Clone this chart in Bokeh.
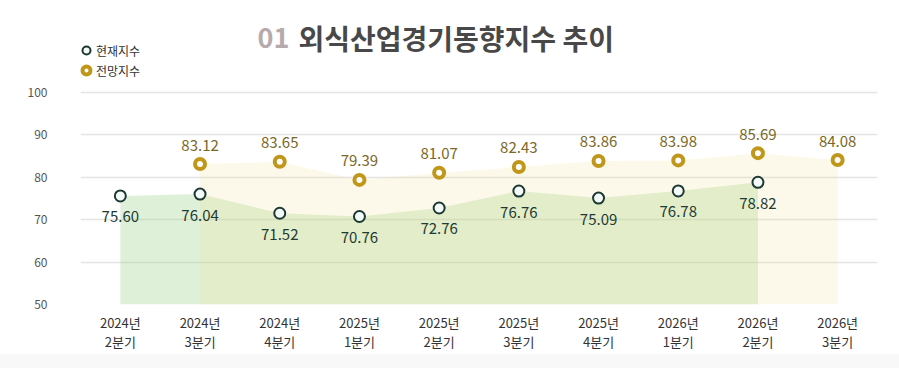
from bokeh.plotting import figure
from bokeh.models import (ColumnDataSource, FactorRange, Range1d, FixedTicker,
                          Label, Legend, LegendItem, Div)
from bokeh.layouts import column
from bokeh.core.properties import value
from bokeh.embed import file_html
from bokeh.resources import INLINE

# Quarterly food-service business sentiment index
quarters = ["2024년\n2분기", "2024년\n3분기", "2024년\n4분기", "2025년\n1분기", "2025년\n2분기",
            "2025년\n3분기", "2025년\n4분기", "2026년\n1분기", "2026년\n2분기", "2026년\n3분기"]
current_q = quarters[:9]
current_vals = [75.60, 76.04, 71.52, 70.76, 72.76, 76.76, 75.09, 76.78, 78.82]
outlook_q = quarters[1:]
outlook_vals = [83.12, 83.65, 79.39, 81.07, 82.43, 83.86, 83.98, 85.69, 84.08]
y_ticks = [50, 60, 70, 80, 90, 100]

FONT = "Noto Sans CJK KR"
W, H = 899, 354
LEFT, RIGHT, BOTTOM = 80, 22, 50
FRAME_H = H - BOTTOM
PX_PER_UNIT = 4.24

cur_src = ColumnDataSource(dict(x=current_q, y=current_vals,
                                base=[50] * len(current_vals),
                                lbl=[f"{v:.2f}" for v in current_vals]))
out_src = ColumnDataSource(dict(x=outlook_q, y=outlook_vals,
                                base=[50] * len(outlook_vals),
                                lbl=[f"{v:.2f}" for v in outlook_vals]))

p = figure(width=W, height=H, output_backend="svg", toolbar_location=None,
           x_range=FactorRange(*quarters, range_padding=0),
           y_range=Range1d(50, 50 + FRAME_H / PX_PER_UNIT),
           min_border_left=LEFT, min_border_right=RIGHT,
           min_border_top=0, min_border_bottom=BOTTOM)
p.outline_line_color = None
p.background_fill_color = "white"
p.border_fill_color = "white"

# shaded areas under both series
p.varea(x="x", y1="base", y2="y", source=cur_src, fill_color=(160, 210, 140), fill_alpha=0.34)
p.varea(x="x", y1="base", y2="y", source=out_src, fill_color=(245, 225, 150), fill_alpha=0.2)

# markers
cur_r = p.scatter(x="x", y="y", source=cur_src, size=11, fill_color="#f4faf8",
                  line_color="#1c3a33", line_width=2)
out_r = p.scatter(x="x", y="y", source=out_src, size=10, fill_color="white",
                  line_color="#c0971a", line_width=4)

# value labels
p.text(x="x", y="y", text="lbl", source=cur_src, y_offset=21,
       text_align="center", text_baseline="middle",
       text_font=value(FONT), text_font_size="15px", text_color="#1e3b33")
p.text(x="x", y="y", text="lbl", source=out_src, y_offset=-19,
       text_align="center", text_baseline="middle",
       text_font=value(FONT), text_font_size="15px", text_color="#7a6826")

# axes and grid
p.yaxis.ticker = FixedTicker(ticks=y_ticks)
p.yaxis.axis_line_color = None
p.yaxis.major_tick_line_color = None
p.yaxis.minor_tick_line_color = None
p.yaxis.major_tick_out = 0
p.yaxis.major_label_standoff = 33
p.yaxis.major_label_text_font = FONT
p.yaxis.major_label_text_font_size = "12px"
p.yaxis.major_label_text_color = "#555555"

p.xaxis.axis_line_color = None
p.xaxis.major_tick_line_color = None
p.xaxis.major_tick_out = 0
p.xaxis.major_label_standoff = 8
p.xaxis.major_label_text_font = FONT
p.xaxis.major_label_text_font_size = "13px"
p.xaxis.major_label_text_color = "#333333"
p.xaxis.major_label_text_line_height = 1.0

p.xgrid.grid_line_color = None
p.ygrid.grid_line_color = "#e4e4e4"
p.ygrid.grid_line_width = 1.5

# title
p.add_layout(Label(x=177, y=FRAME_H - 37, x_units="screen", y_units="screen", text="01",
                   text_font=FONT, text_font_size="27px", text_font_style="bold",
                   text_color="#b6aaac", text_align="left", text_baseline="middle"))
p.add_layout(Label(x=218, y=FRAME_H - 37, x_units="screen", y_units="screen",
                   text="외식산업경기동향지수 추이",
                   text_font=FONT, text_font_size="28px", text_font_style="bold",
                   text_color="#484848", text_align="left", text_baseline="middle"))

# legend
legend = Legend(items=[LegendItem(label="현재지수", renderers=[cur_r]),
                       LegendItem(label="전망지수", renderers=[out_r])],
                location=(-4, FRAME_H - 80),
                glyph_width=20, glyph_height=20, label_standoff=0,
                padding=0, margin=0, spacing=0,
                border_line_color=None, background_fill_alpha=0,
                label_text_font=FONT, label_text_font_size="12px",
                label_text_color="#333333", label_height=20)
p.add_layout(legend)

footer = Div(text="", width=W, height=368 - H, margin=0,
             styles={"background-color": "#f8f8f8"})

layout = column(p, footer, spacing=0)
open("out.html", "w").write(file_html(layout, INLINE))
